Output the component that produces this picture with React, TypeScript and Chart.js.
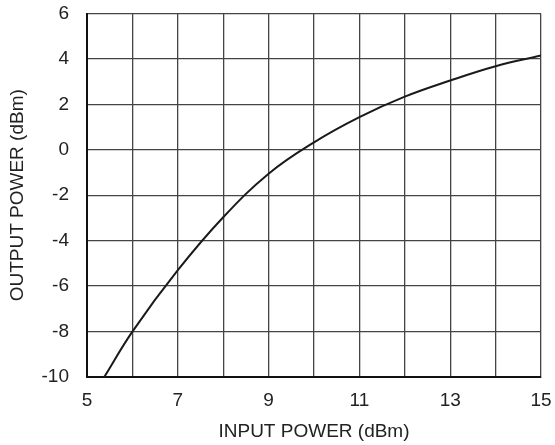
import React, { useEffect, useRef } from "react";
import { Chart, registerables } from "chart.js";

Chart.register(...registerables);

const inputPower = [5.38, 6, 7, 8, 9, 10, 11, 12, 13, 14, 15];
const outputPower = [-10, -8, -5.3, -2.97, -1.05, 0.33, 1.44, 2.34, 3.05, 3.68, 4.15];
const xLabeled = [5, 7, 9, 11, 13, 15];
const yTicks = [-10, -8, -6, -4, -2, 0, 2, 4, 6];

export default function App() {
  const ref = useRef<HTMLCanvasElement | null>(null);
  useEffect(() => {
    if (!ref.current) return;
    const font = { family: "'Liberation Sans', Arial, sans-serif", size: 19 };
    const chart = new Chart(ref.current, {
      type: "line",
      data: {
        datasets: [
          {
            data: inputPower.map((x, i) => ({ x, y: outputPower[i] })),
            borderColor: "#1a1a1a",
            borderWidth: 2,
            pointRadius: 0,
            tension: 0.4,
            fill: false,
          },
        ],
      },
      options: {
        animation: false,
        responsive: false,
        maintainAspectRatio: false,
        layout: { padding: { top: 13.5, right: 14, left: 0, bottom: 0 } },
        plugins: { legend: { display: false }, tooltip: { enabled: false } },
        scales: {
          x: {
            type: "linear",
            min: 5,
            max: 15,
            ticks: {
              stepSize: 1,
              autoSkip: false,
              maxRotation: 0,
              padding: 12,
              color: "#222",
              font,
              callback: (v: any) => (xLabeled.includes(Number(v)) ? String(v) : ""),
            },
            grid: { color: "#444", lineWidth: 1.3, drawTicks: false },
            border: { color: "#111", width: 2 },
            title: {
              display: true,
              text: "INPUT POWER (dBm)",
              color: "#222",
              font,
              padding: { top: 0, bottom: 2 },
            },
            afterFit: (s: any) => {
              s.height = 68;
              s.paddingLeft = 0;
              s.paddingRight = 0;
            },
          },
          y: {
            type: "linear",
            min: yTicks[0],
            max: yTicks[yTicks.length - 1],
            afterBuildTicks: (s: any) => {
              s.ticks = yTicks.map((v) => ({ value: v }));
            },
            ticks: { padding: 18, color: "#222", font },
            grid: { color: "#444", lineWidth: 1.3, drawTicks: false },
            border: { color: "#111", width: 2 },
            title: {
              display: true,
              text: "OUTPUT POWER (dBm)",
              color: "#222",
              font,
              padding: { top: 6, bottom: 0 },
            },
            afterFit: (s: any) => {
              s.width = 87;
              s.paddingTop = 0;
              s.paddingBottom = 0;
            },
          },
        },
      },
    });
    return () => chart.destroy();
  }, []);
  return (
    <div style={{ position: "fixed", left: 0, top: 0, width: 555, height: 445, background: "#fff" }}>
      <canvas ref={ref} width={555} height={445} style={{ display: "block" }} />
    </div>
  );
}
